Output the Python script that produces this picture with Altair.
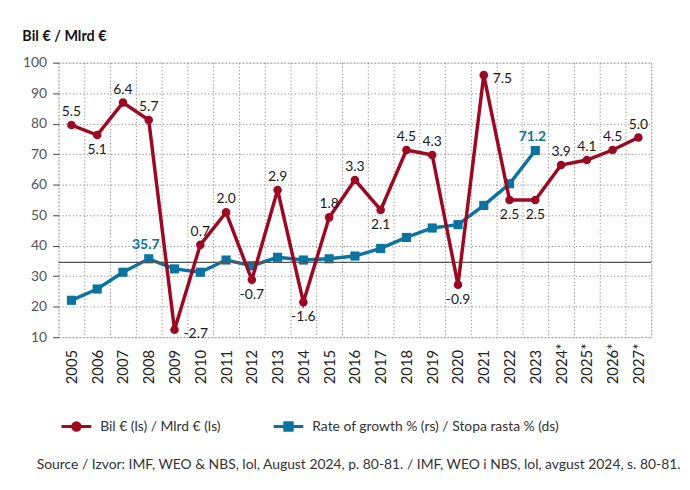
import altair as alt
import pandas as pd

FONT = "Lato"
RED = "#9a0a22"
BLUE = "#0a73a0"

years = ["2005", "2006", "2007", "2008", "2009", "2010", "2011", "2012", "2013", "2014",
         "2015", "2016", "2017", "2018", "2019", "2020", "2021", "2022", "2023",
         "2024*", "2025*", "2026*", "2027*"]

# Blue series (left scale)
bil_years = years[:19]
bil_values = [22.1, 25.8, 31.3, 35.7, 32.4, 31.3, 35.3, 33.4, 36.2, 35.3,
              35.7, 36.6, 39.1, 42.7, 45.8, 46.9, 53.2, 60.3, 71.2]
bil_label_years = ["2008", "2023"]

# Red series (right scale)
growth_values = [5.5, 5.1, 6.4, 5.7, -2.7, 0.7, 2.0, -0.7, 2.9, -1.6, 1.8, 3.3,
                 2.1, 4.5, 4.3, -0.9, 7.5, 2.5, 2.5, 3.9, 4.1, 4.5, 5.0]
growth_label_pos = ["above", "below", "above", "above", "right", "above", "above",
                    "below", "above", "below", "above", "above", "below", "above",
                    "above", "below", "right", "below", "below", "above", "above",
                    "above", "above"]

red_name = "Bil € (ls) / Mlrd € (ls)"
blue_name = "Rate of growth % (rs) / Stopa rasta % (ds)"
source_text = "Source / Izvor: IMF, WEO & NBS, lol, August 2024, p. 80-81. / IMF, WEO i NBS, lol, avgust 2024, s. 80-81."

left_ticks = [10, 20, 30, 40, 50, 60, 70, 80, 90, 100]
right_ticks = [-3, -2, -1, 0, 1, 2, 3, 4, 5, 6, 7, 8]

blue_df = pd.DataFrame({
    "year": bil_years,
    "value": bil_values,
    "series": blue_name,
    "label": [f"{v:.1f}" if y in bil_label_years else "" for y, v in zip(bil_years, bil_values)],
})
red_df = pd.DataFrame({
    "year": years,
    "value": growth_values,
    "series": red_name,
    "label": [f"{v:.1f}" for v in growth_values],
    "pos": growth_label_pos,
})

W, H = 598, 277

x_enc = alt.X(
    "year:N",
    sort=years,
    scale=alt.Scale(type="band", domain=years, paddingInner=0, paddingOuter=0),
    axis=alt.Axis(
        title=source_text,
        titleX=627, titleY=132, titleAlign="right", titleBaseline="alphabetic",
        titleFontSize=14, titleFontWeight="normal", titleColor="#333333", titleFont=FONT,
        labelAngle=-90, labelAlign="left", labelBaseline="middle", labelPadding=47,
        labelFontSize=15, labelColor="#222222", labelFont=FONT,
        ticks=False, domain=False,
        grid=True, tickBand="extent", gridColor="#8a8a8a", gridDash=[1.2, 2.3], gridWidth=1,
    ),
)

color_scale = alt.Scale(domain=[red_name, blue_name], range=[RED, BLUE])
sym_expr = ("datum.index === 0 ? "
            "'M-3,0L3,0M-0.75,0A0.75,0.75 0 1,1 0.75,0A0.75,0.75 0 1,1 -0.75,0Z' : "
            "'M-3,0L3,0M-0.75,-0.75L0.75,-0.75L0.75,0.75L-0.75,0.75Z'")
col_expr = f"datum.index === 0 ? '{RED}' : '{BLUE}'"
legend = alt.Legend(
    title=None, orient="none", direction="horizontal", legendX=11, legendY=360,
    symbolSize=100, symbolStrokeWidth=3, labelFontSize=14, labelFont=FONT,
    labelColor="#333333", labelOffset=17, columnPadding=47, labelLimit=0,
    symbolType=alt.ExprRef(sym_expr),
    symbolFillColor=alt.ExprRef(col_expr),
    symbolStrokeColor=alt.ExprRef(col_expr),
    symbolOpacity=1,
)

# ---- left (blue) layer
y_left = alt.Y(
    "value:Q",
    scale=alt.Scale(domain=[10, 100], nice=False, zero=False),
    axis=alt.Axis(
        orient="left", values=left_ticks, title="Bil € / Mlrd €",
        titleAngle=0, titleX=-37, titleY=-22, titleAlign="left", titleBaseline="alphabetic",
        titleFontSize=14.5, titleFontWeight="bold", titleColor="#111111", titleFont=FONT,
        labelFontSize=14, labelColor="#555555", labelFont=FONT, labelPadding=6,
        ticks=True, tickSize=6, tickColor="#444444", domain=False,
        grid=True, gridColor="#8a8a8a", gridDash=[1.2, 2.3], gridWidth=1,
    ),
)
blue_base = alt.Chart(blue_df)
blue_line = blue_base.mark_line(strokeWidth=3.5).encode(
    x=x_enc, y=y_left,
    color=alt.Color("series:N", scale=color_scale, legend=legend),
)
blue_pts = blue_base.mark_point(shape="square", filled=True, size=85, opacity=1, color=BLUE).encode(
    x=x_enc, y=y_left)
blue_txt = blue_base.mark_text(font=FONT, fontSize=14, fontWeight="bold", color=BLUE,
                               baseline="alphabetic", dy=-10, dx=-3).encode(
    x=x_enc, y=y_left, text="label:N")
left = alt.layer(blue_line, blue_pts, blue_txt)

# ---- right (red) layer
y_right = alt.Y(
    "value:Q",
    scale=alt.Scale(domain=[-3, 8], nice=False, zero=False),
    axis=alt.Axis(
        orient="right", values=right_ticks, title="%",
        titleAngle=0, titleX=26, titleY=-22, titleAlign="right", titleBaseline="alphabetic",
        titleFontSize=14.5, titleFontWeight="bold", titleColor="#111111", titleFont=FONT,
        labelFontSize=14, labelColor="#555555", labelFont=FONT, labelPadding=18,
        labelAlign="right", labelExpr="'' + datum.value",
        ticks=True, tickSize=5, tickColor="#444444", domain=False, grid=False,
    ),
)
red_base = alt.Chart(red_df)
zero_rule = alt.Chart(pd.DataFrame({"v": [0]})).mark_rule(color="#555555", strokeWidth=1.3).encode(
    y=alt.Y("v:Q", scale=alt.Scale(domain=[-3, 8], nice=False, zero=False), axis=None))
red_line = red_base.mark_line(strokeWidth=3.5).encode(
    x=x_enc, y=y_right,
    color=alt.Color("series:N", scale=color_scale, legend=legend),
)
red_pts = red_base.mark_point(shape="circle", filled=True, size=75, opacity=1, color=RED).encode(
    x=x_enc, y=y_right)
txt_kw = dict(font=FONT, fontSize=14, color="#1a1a1a")
red_above = red_base.transform_filter("datum.pos == 'above'").mark_text(
    baseline="alphabetic", dy=-9, **txt_kw).encode(x=x_enc, y=y_right, text="label:N")
red_below = red_base.transform_filter("datum.pos == 'below'").mark_text(
    baseline="top", dy=8, **txt_kw).encode(x=x_enc, y=y_right, text="label:N")
red_right = red_base.transform_filter("datum.pos == 'right'").mark_text(
    baseline="middle", align="left", dx=9, dy=4, **txt_kw).encode(x=x_enc, y=y_right, text="label:N")
right = alt.layer(zero_rule, red_line, red_pts, red_above, red_below, red_right)

chart = alt.layer(left, right).resolve_scale(y="independent").properties(
    width=W, height=H,
    autosize=alt.AutoSizeParams(type="none"),
    padding={"left": 51, "top": 53, "right": 31, "bottom": 150},
).configure_view(stroke=None).configure(font=FONT)

chart.save("out.html", embed_options={"renderer": "svg", "actions": False})
